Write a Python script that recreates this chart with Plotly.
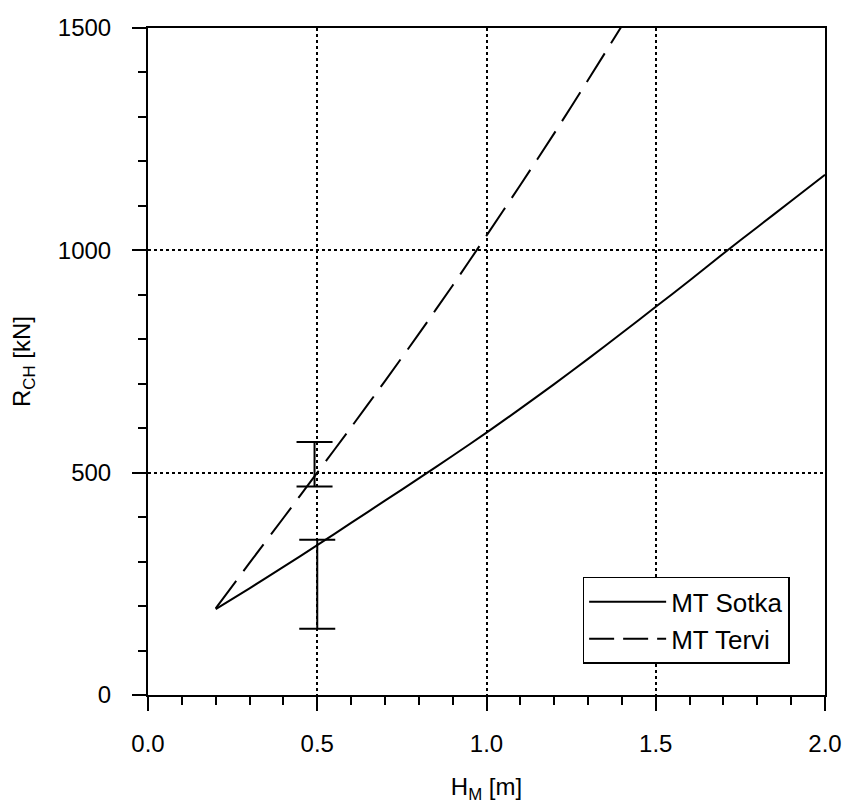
import plotly.graph_objects as go

# Wave height H_M [m] and load R_CH [kN] for the two vessels
h_sotka = [0.2, 0.3, 0.4, 0.5, 0.6, 0.7, 0.8, 0.9, 1.0, 1.1, 1.2, 1.3, 1.4,
           1.5, 1.6, 1.7, 1.8, 1.9, 2.0]
r_sotka = [193, 240, 288, 337, 387, 437, 487, 538, 590, 644, 699, 756, 814,
           873, 932, 993, 1052, 1111, 1170]

h_tervi = [0.2, 0.3, 0.4, 0.5, 0.6, 0.7, 0.8, 0.9, 1.0, 1.1, 1.2, 1.3, 1.4]
r_tervi = [195, 297, 398, 500, 602, 706, 812, 921, 1033, 1147, 1263, 1383, 1505]

# Measured ranges (lower / upper limit) at H_M = 0.5 m
bar_h = [0.492, 0.5]
bar_lo = [469, 149]
bar_hi = [569, 349]

x_ticks = [0.0, 0.5, 1.0, 1.5, 2.0]
y_ticks = [0, 500, 1000, 1500]

bar_mid = [(a + b) / 2 for a, b in zip(bar_lo, bar_hi)]
bar_plus = [b - m for b, m in zip(bar_hi, bar_mid)]
bar_minus = [m - a for a, m in zip(bar_lo, bar_mid)]

FONT = "Liberation Sans, Arial, Helvetica, sans-serif"

fig = go.Figure()

fig.add_trace(go.Scatter(
    x=h_sotka, y=r_sotka, mode="lines", name="MT Sotka",
    line=dict(color="black", width=2, shape="spline", smoothing=0.6),
))
fig.add_trace(go.Scatter(
    x=h_tervi, y=r_tervi, mode="lines", name="MT Tervi", showlegend=False,
    line=dict(color="black", width=2, dash="34px,12px", shape="spline",
              smoothing=0.6),
))
# legend key for the dashed curve (shorter dashes so they fit the key)
fig.add_trace(go.Scatter(
    x=[None], y=[None], mode="lines", name="MT Tervi",
    line=dict(color="black", width=2, dash="25px,9px"),
))
fig.add_trace(go.Scatter(
    x=bar_h, y=bar_mid, mode="markers", showlegend=False, hoverinfo="skip",
    marker=dict(size=1, color="rgba(0,0,0,0)"),
    error_y=dict(type="data", symmetric=False, array=bar_plus,
                 arrayminus=bar_minus, color="black", thickness=2, width=18),
))

axis_common = dict(
    showline=True, linecolor="black", linewidth=2, mirror=True,
    ticks="outside", ticklen=14, tickwidth=2, tickcolor="black",
    showgrid=True, gridcolor="black", gridwidth=2, griddash="dot",
    zeroline=False,
    tickfont=dict(family=FONT, size=24, color="black"),
)

fig.update_xaxes(
    range=[0, 2.0], tickvals=x_ticks, ticktext=[f"{v:.1f}" for v in x_ticks],
    ticklabeloverflow="allow", automargin="height",
    minor=dict(dtick=0.1, ticks="outside", ticklen=8, tickwidth=1.5,
               tickcolor="black", showgrid=False),
    ticklabelstandoff=12,
    title=dict(text="H<sub>M</sub> [m]", standoff=22,
               font=dict(family=FONT, size=24, color="black")),
    **axis_common,
)
fig.update_yaxes(
    range=[0, 1500], tickvals=y_ticks,
    minor=dict(dtick=100, ticks="outside", ticklen=8, tickwidth=1.5,
               tickcolor="black", showgrid=False),
    ticklabelstandoff=16,
    title=dict(text="R<sub>CH</sub> [kN]", standoff=20,
               font=dict(family=FONT, size=24, color="black")),
    **axis_common,
)

fig.update_layout(
    width=842, height=808,
    margin=dict(l=148, r=17, t=28, b=104),
    paper_bgcolor="white", plot_bgcolor="white",
    font=dict(family=FONT, size=24, color="black"),
    legend=dict(
        x=0.642, y=0.177, xanchor="left", yanchor="top",
        bgcolor="white", bordercolor="black", borderwidth=1.5,
        font=dict(family=FONT, size=26, color="black"),
        itemwidth=77, tracegroupgap=0,
    ),
)

fig.write_html("out.html")
